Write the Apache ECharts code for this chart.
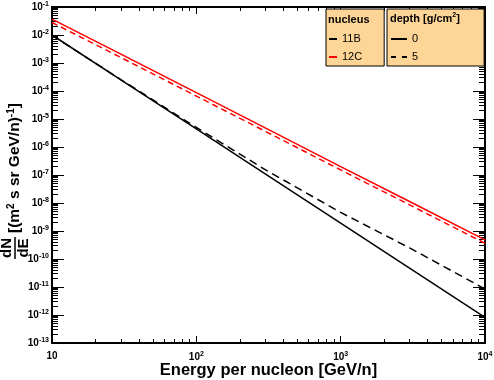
<!DOCTYPE html>
<html>
<head>
<meta charset="utf-8">
<script src="https://cdn.jsdelivr.net/npm/echarts@6/dist/echarts.min.js"></script>
<style>
  html, body { margin: 0; padding: 0; background: #fff; }
  #chart { width: 494px; height: 380px; }
</style>
</head>
<body>
<div id="chart"></div>
<script>
// energy per nucleon [GeV/n]
const energy = [10, 30, 100, 300, 1000, 3000, 10000]
// flux dN/dE [(m2 s sr GeV/n)^-1]
const b11Depth0 = [1.0e-2, 2.49e-4, 4.4e-6, 1.09e-7, 1.9e-9, 4.75e-11, 8.3e-13]
const b11Depth5 = [9.8e-3, 2.55e-4, 5.0e-6, 1.55e-7, 4.6e-9, 2.5e-10, 8.5e-12]
const c12Depth0 = [3.7e-2, 2.07e-3, 8.7e-5, 4.8e-6, 2.0e-7, 1.13e-8, 4.8e-10]
const c12Depth5 = [2.8e-2, 1.57e-3, 6.6e-5, 3.65e-6, 1.52e-7, 8.6e-9, 3.65e-10]

const xMajorTicks = [10, 100, 1000, 10000]
const yMajorTicks = [1e-13, 1e-12, 1e-11, 1e-10, 1e-9, 1e-8, 1e-7, 1e-6, 1e-5, 1e-4, 1e-3, 1e-2, 1e-1]

const font = '"Liberation Sans", Arial, sans-serif'

function minorTicks(majors) {
  const out = []
  for (let i = 0; i < majors.length - 1; i++) {
    for (let m = 2; m <= 9; m++) out.push(majors[i] * m)
  }
  return out
}
const xMinorTicks = minorTicks(xMajorTicks)
const yMinorTicks = minorTicks(yMajorTicks)

function pairs(ys) {
  return energy.map((e, i) => [e, ys[i]])
}

function powLabel(v) {
  const p = Math.round(Math.log10(v))
  if (p === 1) return '{b|10}'
  return '{b|10}{s|' + p + '}'
}

const labelRich = {
  b: { fontSize: 10, fontWeight: 'bold', fontFamily: font, color: '#000' },
  s: { fontSize: 7, fontWeight: 'bold', fontFamily: font, color: '#000', padding: [0, 0, 6, 0] }
}

function logAxis(pos, min, max, major, minor, isMajor, label) {
  const vertical = pos === 'left' || pos === 'right'
  return {
    type: 'log',
    position: pos,
    min: min,
    max: max,
    axisLine: { show: isMajor, lineStyle: { color: '#000', width: 2 } },
    axisTick: {
      show: true,
      inside: true,
      length: isMajor ? (vertical ? 12 : 7) : (vertical ? 6 : 4),
      customValues: isMajor ? major : minor,
      lineStyle: { color: '#000', width: 1 }
    },
    axisLabel: {
      show: !!label,
      customValues: major,
      formatter: powLabel,
      rich: labelRich,
      margin: pos === 'bottom' ? 8 : 3
    },
    splitLine: { show: false },
    minorTick: { show: false }
  }
}

const xBottom = logAxis('bottom', 10, 10000, xMajorTicks, xMinorTicks, true, true)
xBottom.name = 'Energy per nucleon [GeV/n]'
xBottom.nameLocation = 'middle'
xBottom.nameGap = 27
xBottom.nameMoveOverlap = false
xBottom.nameTextStyle = { fontSize: 16.5, fontWeight: 'bold', fontFamily: font, color: '#000', verticalAlign: 'middle' }

const legendBase = {
  orient: 'vertical',
  top: 9,
  itemHeight: 12,
  itemGap: 6,
  backgroundColor: '#FDD596',
  borderColor: '#000',
  borderWidth: 1,
  borderRadius: 0,
  selectedMode: false,
  itemStyle: { opacity: 0 },
  textStyle: { fontSize: 11, fontFamily: font, color: '#000', lineHeight: 12 }
}

const chart = echarts.init(document.getElementById('chart'))
chart.setOption({
  animation: false,
  backgroundColor: '#fff',
  grid: { left: 52, right: 9, top: 7, bottom: 37, containLabel: false, outerBoundsMode: 'none' },
  xAxis: [
    xBottom,
    logAxis('bottom', 10, 10000, xMajorTicks, xMinorTicks, false, false),
    logAxis('top', 10, 10000, xMajorTicks, xMinorTicks, true, false),
    logAxis('top', 10, 10000, xMajorTicks, xMinorTicks, false, false)
  ],
  yAxis: [
    logAxis('left', 1e-13, 1e-1, yMajorTicks, yMinorTicks, true, true),
    logAxis('left', 1e-13, 1e-1, yMajorTicks, yMinorTicks, false, false),
    logAxis('right', 1e-13, 1e-1, yMajorTicks, yMinorTicks, true, false),
    logAxis('right', 1e-13, 1e-1, yMajorTicks, yMinorTicks, false, false)
  ],
  legend: [Object.assign({}, legendBase, {
    data: ['11B', '12C'],
    left: 326,
    padding: [24, 22, 3, 2],
    itemWidth: 8,
    itemTextGap: 2
  }), Object.assign({}, legendBase, {
    data: ['0', '5'],
    left: 387,
    padding: [24, 66, 3, 3],
    itemWidth: 16,
    itemTextGap: 5
  })],
  graphic: [{
    type: 'text', left: 328, top: 14, z: 100,
    style: { text: 'nucleus', fontSize: 11, fontWeight: 'bold', fontFamily: font, fill: '#000' }
  }, {
    type: 'text', left: 390, top: 12, z: 100,
    style: {
      text: '{t|depth [g/cm}{s|2}{t|]}',
      rich: {
        t: { fontSize: 11, fontWeight: 'bold', fontFamily: font, fill: '#000' },
        s: { fontSize: 7, fontWeight: 'bold', fontFamily: font, fill: '#000', padding: [0, 0, 6, 0] }
      }
    }
  }, {
    type: 'group', x: 15, y: 259, rotation: Math.PI / 2, z: 100,
    children: [{
      type: 'text', x: 11, y: -1,
      style: { text: 'dN', fontSize: 15, fontWeight: 'bold', fontFamily: font, fill: '#000', align: 'center', verticalAlign: 'bottom' }
    }, {
      type: 'line', shape: { x1: 0, y1: 0, x2: 22, y2: 0 },
      style: { stroke: '#000', lineWidth: 1.5 }
    }, {
      type: 'text', x: 11, y: 1,
      style: { text: 'dE', fontSize: 15, fontWeight: 'bold', fontFamily: font, fill: '#000', align: 'center', verticalAlign: 'top' }
    }, {
      type: 'text', x: 26, y: 0,
      style: {
        text: '{t|[(m}{s|2}{t| s sr GeV/n)}{s|-1}{t|]}',
        align: 'left', verticalAlign: 'middle',
        rich: {
          t: { fontSize: 15.5, fontWeight: 'bold', fontFamily: font, fill: '#000' },
          s: { fontSize: 10, fontWeight: 'bold', fontFamily: font, fill: '#000', padding: [0, 0, 8, 0] }
        }
      }
    }]
  }],
  series: [{
    name: '12C 0', type: 'line', data: pairs(c12Depth0), symbol: 'none',
    lineStyle: { color: '#f00', width: 1.5 }, itemStyle: { color: '#f00' }
  }, {
    name: '12C 5', type: 'line', data: pairs(c12Depth5), symbol: 'none',
    lineStyle: { color: '#f00', width: 1.5, type: [6, 4] }, itemStyle: { color: '#f00' }
  }, {
    name: '11B 0', type: 'line', data: pairs(b11Depth0), symbol: 'none',
    lineStyle: { color: '#000', width: 1.5 }, itemStyle: { color: '#000' }
  }, {
    name: '11B 5', type: 'line', data: pairs(b11Depth5), symbol: 'none',
    lineStyle: { color: '#000', width: 1.5, type: [8, 5] }, itemStyle: { color: '#000' }
  },
  // legend-only entries
  { name: '11B', type: 'line', data: [], symbol: 'none', lineStyle: { color: '#000', width: 1.5 }, itemStyle: { color: '#000' } },
  { name: '12C', type: 'line', data: [], symbol: 'none', lineStyle: { color: '#f00', width: 1.5 }, itemStyle: { color: '#f00' } },
  { name: '0', type: 'line', data: [], symbol: 'none', lineStyle: { color: '#000', width: 1.5 }, itemStyle: { color: '#000' } },
  { name: '5', type: 'line', data: [], symbol: 'none', lineStyle: { color: '#000', width: 1.5, type: [5, 6] }, itemStyle: { color: '#000' } }]
})
</script>
</body>
</html>
